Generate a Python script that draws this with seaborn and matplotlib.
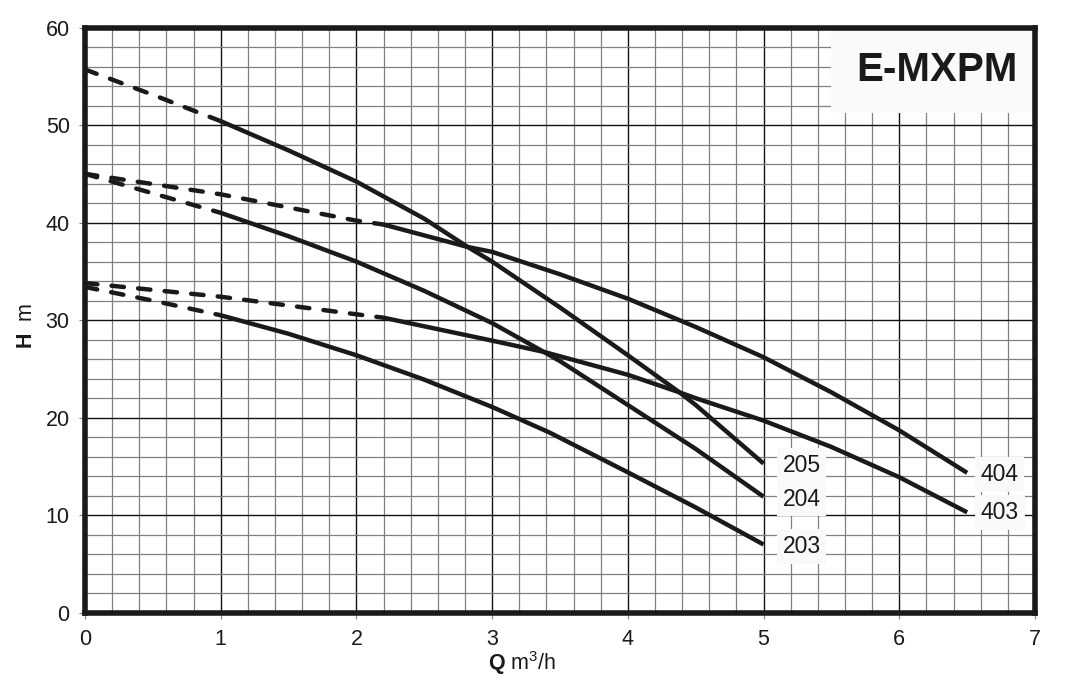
import matplotlib
matplotlib.use('Agg')
import matplotlib.pyplot as plt
import matplotlib.ticker as ticker
from matplotlib.patches import Rectangle
import seaborn as sns

# pump curves E-MXPM (Q in m3/h, H in m)
q_205_dash = [0, 0.5, 1]
h_205_dash = [55.7, 53.1, 50.4]
q_205 = [1, 1.5, 2, 2.5, 2.82, 3, 3.5, 4, 4.38, 4.5, 5]
h_205 = [50.4, 47.4, 44.2, 40.4, 37.5, 36.0, 31.3, 26.4, 22.6, 21.3, 15.3]

q_204_dash = [0, 0.5, 1]
h_204_dash = [45.0, 43.0, 41.0]
q_204 = [1, 1.5, 2, 2.5, 3, 3.38, 3.5, 4, 4.5, 5]
h_204 = [41.0, 38.6, 36.0, 33.0, 29.7, 26.75, 25.8, 21.3, 16.8, 11.9]

q_203_dash = [0, 0.5, 1]
h_203_dash = [33.4, 32.0, 30.5]
q_203 = [1, 1.5, 2, 2.5, 3, 3.42, 4, 4.5, 5]
h_203 = [30.5, 28.6, 26.4, 23.9, 21.1, 18.5, 14.4, 10.8, 7.0]

q_404_dash = [0, 1, 2, 2.2]
h_404_dash = [45.0, 42.9, 40.2, 39.8]
q_404 = [2.2, 2.82, 3, 3.5, 4, 4.5, 5, 5.5, 6, 6.5]
h_404 = [39.8, 37.5, 37.0, 34.7, 32.2, 29.3, 26.2, 22.6, 18.7, 14.35]

q_403_dash = [0, 1, 2, 2.2]
h_403_dash = [33.8, 32.4, 30.6, 30.25]
q_403 = [2.2, 3, 3.38, 4, 4.38, 4.5, 5, 5.5, 6, 6.5]
h_403 = [30.25, 27.9, 26.75, 24.4, 22.6, 22.0, 19.7, 17.0, 13.9, 10.3]

curve_names = ['205', '204', '203', '404', '403']
label_x = [5.28, 5.28, 5.28, 6.74, 6.74]
label_y = [15.15, 11.65, 6.8, 14.2, 10.3]

solid = {'205': (q_205, h_205), '204': (q_204, h_204), '203': (q_203, h_203),
         '404': (q_404, h_404), '403': (q_403, h_403)}
dashed = {'205': (q_205_dash, h_205_dash), '204': (q_204_dash, h_204_dash),
          '203': (q_203_dash, h_203_dash), '404': (q_404_dash, h_404_dash),
          '403': (q_403_dash, h_403_dash)}

sns.set_theme(style='white')
plt.rcParams['font.family'] = ['Liberation Sans', 'DejaVu Sans']
plt.rcParams['mathtext.fontset'] = 'custom'
plt.rcParams['mathtext.rm'] = 'Liberation Sans'
plt.rcParams['mathtext.bf'] = 'Liberation Sans:bold'

ink = '#1a1a1a'
fig = plt.figure(figsize=(10.66, 6.89), dpi=100)
ax = fig.add_axes([85 / 1066, 1 - 612.8 / 689, 950 / 1066, 585.3 / 689])

for name in curve_names:
    qd, hd = dashed[name]
    sns.lineplot(x=qd, y=hd, color=ink, linewidth=3.2, linestyle=(0, (2.8, 3.2)),
                 dash_capstyle='round', ax=ax, zorder=3)
    qs, hs = solid[name]
    sns.lineplot(x=qs, y=hs, color=ink, linewidth=3.2, solid_capstyle='butt',
                 solid_joinstyle='round', ax=ax, zorder=3)

for name, lx, ly in zip(curve_names, label_x, label_y):
    ax.text(lx, ly, name, fontsize=16.5, color=ink, ha='center', va='center', zorder=5,
            bbox=dict(boxstyle='square,pad=0.25', facecolor='#f9f9f9', edgecolor='none'))

# title box
ax.add_patch(Rectangle((5.5, 51.2), 1.5, 8.8, facecolor='#fafafa', edgecolor='none', zorder=4))
ax.text(6.28, 55.6, 'E-MXPM', fontsize=29, fontweight='bold', color=ink,
        ha='center', va='center', zorder=5)

ax.set_xlim(0, 7)
ax.set_ylim(0, 60)
ax.xaxis.set_major_locator(ticker.MultipleLocator(1))
ax.xaxis.set_minor_locator(ticker.MultipleLocator(0.2))
ax.yaxis.set_major_locator(ticker.MultipleLocator(10))
ax.yaxis.set_minor_locator(ticker.MultipleLocator(2))
ax.grid(which='minor', color='#808080', linewidth=0.9)
ax.grid(which='major', color='#111111', linewidth=1.0)
ax.set_axisbelow(True)

ax.tick_params(axis='both', which='major', length=4, width=0.8, color='#808080',
               labelsize=15.5, labelcolor=ink, direction='out', bottom=True, left=True)
ax.tick_params(axis='x', pad=8)
ax.tick_params(axis='y', pad=7)
ax.tick_params(which='minor', length=0)

for sp in ax.spines.values():
    sp.set_linewidth(4)
    sp.set_color(ink)
    sp.set_zorder(6)

ax.set_xlabel(r'$\mathbf{Q}$ m$^{3}$/h', fontsize=15.5, color=ink)
ax.xaxis.set_label_coords(0.46, -0.062)
ax.set_ylabel(r'$\mathbf{H}$  m', fontsize=15.5, color=ink)
ax.yaxis.set_label_coords(-0.05, 0.49)

fig.savefig('out.png', dpi=100)
